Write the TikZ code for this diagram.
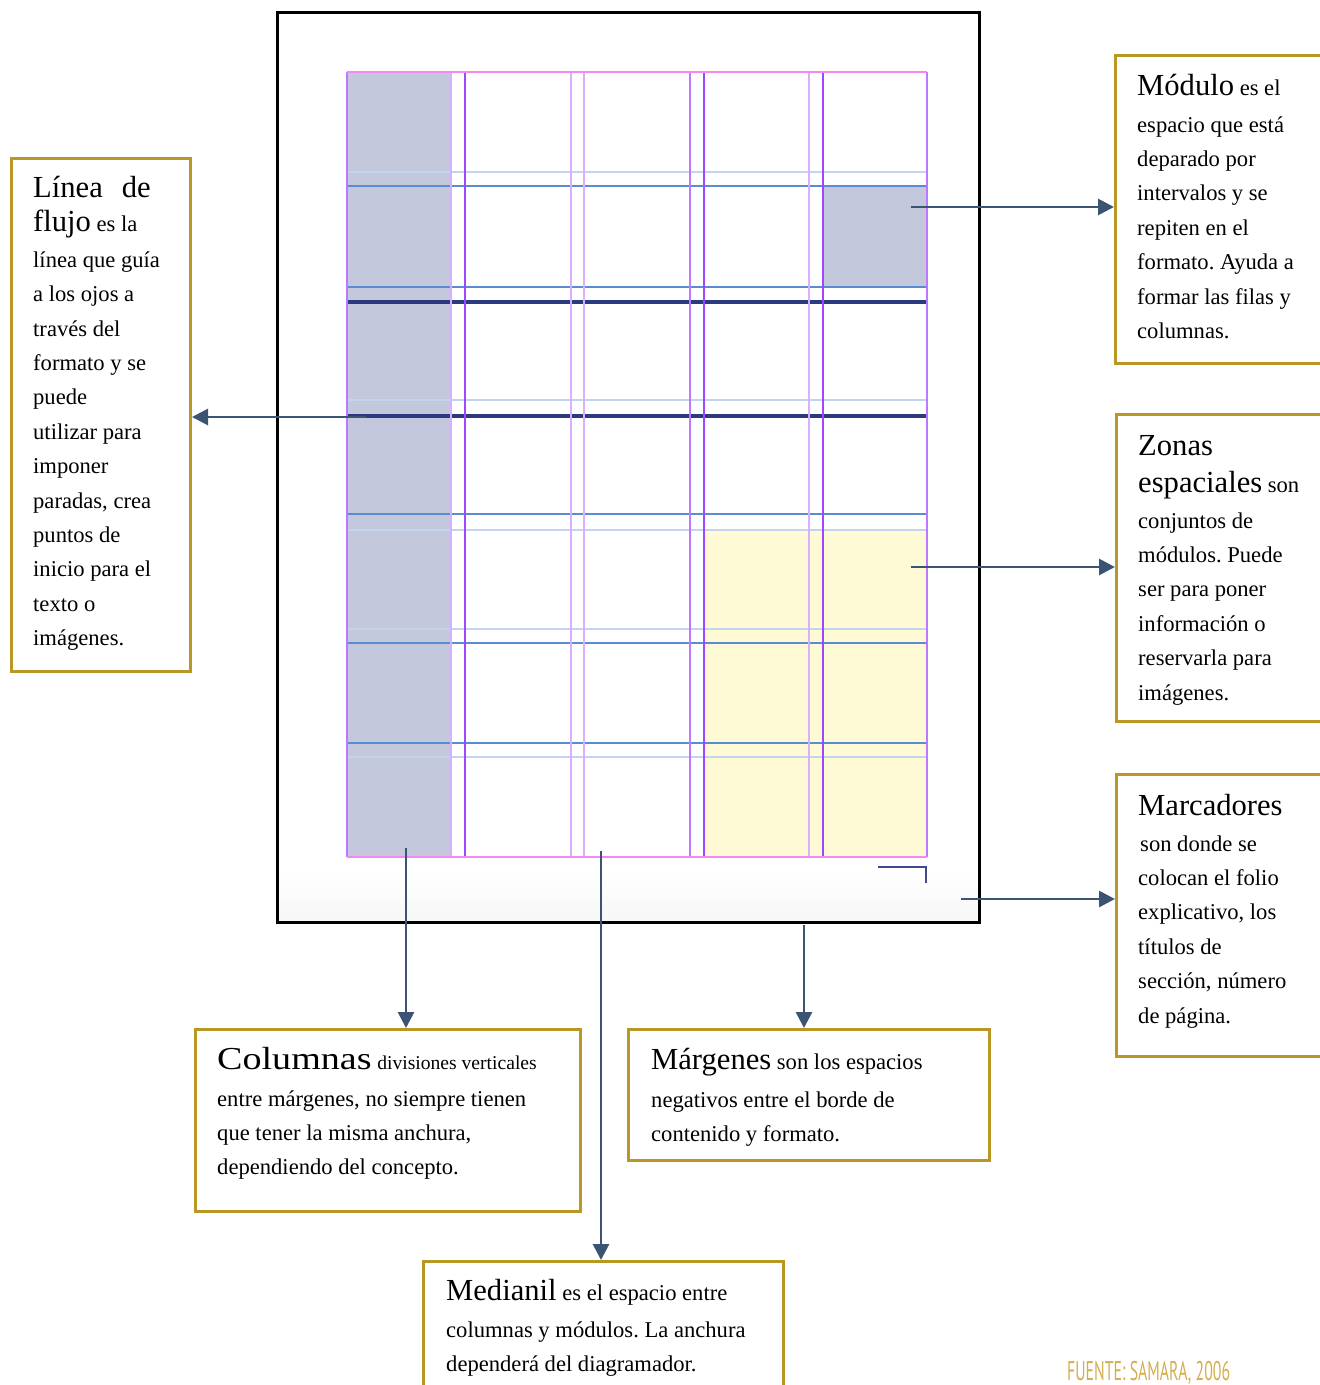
\documentclass[tikz,border=0pt]{standalone}
\usepackage{fontspec}
\usepackage{graphicx}
\setmainfont{Liberation Serif}
\newfontfamily\srcfont{PT Sans}
\usetikzlibrary{arrows.meta}
\frenchspacing
\definecolor{gold}{RGB}{186,150,34}
\definecolor{arrowc}{RGB}{59,84,115}
\definecolor{modfill}{RGB}{195,200,220}
\definecolor{zonefill}{RGB}{254,250,214}
\definecolor{edgepink}{RGB}{245,135,245}
\definecolor{vdark}{RGB}{160,70,255}
\definecolor{vmed}{RGB}{190,120,255}
\definecolor{vlight}{RGB}{218,175,255}
\definecolor{hlight}{RGB}{196,212,238}
\definecolor{hblue}{RGB}{90,140,210}
\definecolor{hnavy}{RGB}{43,58,128}
\definecolor{markc}{RGB}{60,75,140}
\definecolor{srccol}{RGB}{212,174,78}
\newcommand{\bodyfont}{\fontsize{22.6}{34.4}\selectfont\frenchspacing}
\newcommand{\hd}[1]{{\fontsize{30.6}{34.4}\selectfont #1}}
\begin{document}
\begin{tikzpicture}[x=1pt,y=-1pt,
  box/.style={draw=gold,line width=3pt,fill=white,anchor=north west,inner sep=0pt},
  txt/.style={anchor=base west,inner sep=0pt,align=flush left,text width=#1,font=\bodyfont},
  conn/.style={draw=arrowc,line width=2.8pt,-{Triangle[length=16pt,width=16pt]}},
  vd/.style={vdark,line width=1.6pt},
  vm/.style={vmed,line width=1.6pt},
  vl/.style={vlight,line width=1.6pt},
  hl/.style={hlight,line width=1.6pt},
  hb/.style={hblue,line width=1.6pt},
  hn/.style={hnavy,line width=3.4pt}]
\useasboundingbox (0,0) rectangle (1320,1385);
% page
\shade[top color=white,bottom color=black!3] (278,870) rectangle (978,921);
\draw[line width=3pt] (277,12) rectangle (979,922);
% fills
\fill[modfill] (347,72) rectangle (451,857);
\fill[modfill] (823,186) rectangle (927,287);
\fill[zonefill] (704,530) rectangle (927,857);
% horizontal guides
\foreach \yy/\st in {172/hl,186/hb,287/hb,302/hn,400/hl,416/hn,514/hb,530/hl,629/hl,643/hb,743/hb,757/hl}
  \draw[\st] (347,\yy) -- (927,\yy);
% vertical guides
\foreach \xx/\st in {347/vm,451/vl,465/vd,571/vl,584/vl,690/vm,704/vd,809/vl,823/vd,927/vm}
  \draw[\st] (\xx,72) -- (\xx,857);
\draw[edgepink,line width=1.8pt] (347,72) -- (927,72);
\draw[edgepink,line width=1.8pt] (347,857) -- (927,857);
% marker corner
\draw[markc,line width=2.4pt] (878,867) -- (926,867) -- (926,883);
% boxes
\node[box,minimum width=179pt,minimum height=513pt] (flujo) at (10,157) {};
\node[box,minimum width=216pt,minimum height=308pt] (modulo) at (1114,54) {};
\node[box,minimum width=215pt,minimum height=307pt] (zonas) at (1115,413) {};
\node[box,minimum width=215pt,minimum height=282pt] (marc) at (1115,773) {};
\node[box,minimum width=385pt,minimum height=182pt] (colum) at (194,1028) {};
\node[box,minimum width=361pt,minimum height=131pt] (marg) at (627,1028) {};
\node[box,minimum width=360pt,minimum height=140pt] (medi) at (422,1260) {};
% texts
\node[txt=150pt] (flujoT) at (33,197) {\hd{Línea\hspace{19pt}de}\\ \hd{flujo} es la\\[1.5pt] línea que guía\\ a los ojos a\\ través del\\ formato y se\\ puede\\ utilizar para\\ imponer\\ paradas, crea\\ puntos de\\ inicio para el\\ texto o\\ imágenes.};
\node[txt=180pt] (moduloT) at (1137,95) {\hd{Módulo} es el\\[2.6pt] espacio que está\\ deparado por\\ intervalos y se\\ repiten en el\\ formato. Ayuda a\\ formar las filas y\\ columnas.};
\node[txt=180pt] (zonasT) at (1138,455) {\hd{Zonas}\\[2.6pt] \hd{espaciales} son\\[1.6pt] conjuntos de\\ módulos. Puede\\ ser para poner\\ información o\\ reservarla para\\ imágenes.};
\node[txt=180pt] (marcT) at (1138,815) {\hd{Marcadores}\\[1.6pt] \hspace{2pt}son donde se\\ colocan el folio\\ explicativo, los\\ títulos de\\ sección, número\\ de página.};
\node[txt=360pt] (columT) at (217,1069) {{\fontsize{32}{34.4}\selectfont\scalebox{1.19}[1]{Columnas}} {\fontsize{19.6}{34.4}\selectfont divisiones verticales}\\[2.6pt] entre márgenes, no siempre tienen\\ que tener la misma anchura,\\ dependiendo del concepto.};
\node[txt=340pt] (margT) at (651,1069) {\hd{Márgenes} son los espacios\\[3.6pt] negativos entre el borde de\\ contenido y formato.};
\node[txt=340pt] (mediT) at (446,1300) {\hd{Medianil} es el espacio entre\\[2.6pt] columnas y módulos. La anchura\\ dependerá del diagramador.};
\node[anchor=base west,inner sep=0pt,text=srccol,font=\srcfont\fontsize{27}{27}\selectfont] (src) at (1067,1380) {\resizebox{163pt}{\height}{FUENTE: SAMARA, 2006}};
% connectors
\coordinate (aMod) at (911,207);
\coordinate (aZon) at (911,567);
\coordinate (aMar) at (961,899);
\coordinate (aFlu) at (366,417);
\coordinate (aCol) at (406,848);
\coordinate (aMed) at (601,851);
\coordinate (aMarg) at (804,925);
\draw[conn] (aMod) -- (aMod -| modulo.west);
\draw[conn] (aZon) -- (aZon -| zonas.west);
\draw[conn] (aMar) -- (aMar -| marc.west);
\draw[conn] (aFlu) -- (aFlu -| flujo.east);
\draw[conn] (aCol) -- (aCol |- colum.north);
\draw[conn] (aMed) -- (aMed |- medi.north);
\draw[conn] (aMarg) -- (aMarg |- marg.north);
\end{tikzpicture}
\end{document}
